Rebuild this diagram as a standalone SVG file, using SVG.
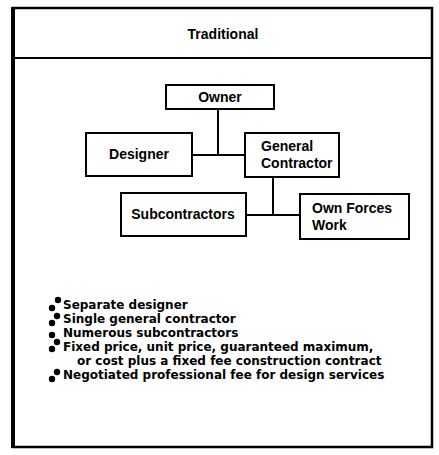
<svg xmlns="http://www.w3.org/2000/svg" width="439" height="455" viewBox="0 0 439 455">
  <style>
    .box { fill: #fff; stroke: #000; stroke-width: 2; }
    .wire { fill: none; stroke: #000; stroke-width: 2; }
    .lbl { font-family: "Liberation Sans", Arial, sans-serif; font-weight: bold; font-size: 14px; fill: #000; }
    .item { font-family: "DejaVu Sans", "Liberation Sans", sans-serif; font-weight: bold; font-size: 12px; fill: #000; }
    .dot { fill: #000; }
  </style>
  <rect width="439" height="455" fill="#fff"/>

  <!-- outer frame and title band -->
  <g id="frame">
    <rect x="13" y="8" width="419" height="439" fill="none" stroke="#000" stroke-width="2.5"/>
    <line x1="13" y1="7" x2="13" y2="448" stroke="#000" stroke-width="4"/>
    <line x1="13" y1="58" x2="432" y2="58" stroke="#000" stroke-width="2"/>
    <text x="223" y="39" text-anchor="middle" class="lbl" font-size="17">Traditional</text>
  </g>

  <!-- connectors -->
  <g id="connectors">
    <path class="wire" d="M218 109 V155 M192 155 H245"/>
    <path class="wire" d="M273 177 V215 M246 215 H300"/>
  </g>

  <g id="owner">
    <rect class="box" x="166" y="85" width="108" height="24"/>
    <text class="lbl" x="220" y="102" text-anchor="middle">Owner</text>
  </g>

  <g id="designer">
    <rect class="box" x="86" y="133" width="106" height="43"/>
    <text class="lbl" x="139" y="159" text-anchor="middle">Designer</text>
  </g>

  <g id="general-contractor">
    <rect class="box" x="245" y="133" width="94" height="44"/>
    <text class="lbl" x="261" y="151">General</text>
    <text class="lbl" x="261" y="168">Contractor</text>
  </g>

  <g id="subcontractors">
    <rect class="box" x="121" y="193" width="125" height="43"/>
    <text class="lbl" x="183" y="219" text-anchor="middle">Subcontractors</text>
  </g>

  <g id="own-forces">
    <rect class="box" x="300" y="194" width="109" height="45"/>
    <text class="lbl" x="312" y="213">Own Forces</text>
    <text class="lbl" x="312" y="230">Work</text>
  </g>

  <!-- characteristics list -->
  <g id="notes">
    <circle class="dot" cx="58" cy="300" r="3.2"/>
    <circle class="dot" cx="52" cy="308" r="3.2"/>
    <circle class="dot" cx="57" cy="316" r="3.2"/>
    <circle class="dot" cx="52" cy="323" r="3.2"/>
    <circle class="dot" cx="52" cy="335" r="3.2"/>
    <circle class="dot" cx="57" cy="342" r="3.2"/>
    <circle class="dot" cx="52" cy="349" r="3.2"/>
    <circle class="dot" cx="57" cy="372" r="3.2"/>
    <circle class="dot" cx="52" cy="379" r="3.2"/>
    <text class="item" x="63" y="309">Separate designer</text>
    <text class="item" x="63" y="323">Single general contractor</text>
    <text class="item" x="63" y="337">Numerous subcontractors</text>
    <text class="item" x="63" y="351">Fixed price, unit price, guaranteed maximum,</text>
    <text class="item" x="77" y="365">or cost plus a fixed fee construction contract</text>
    <text class="item" x="63" y="379">Negotiated professional fee for design services</text>
  </g>
</svg>
